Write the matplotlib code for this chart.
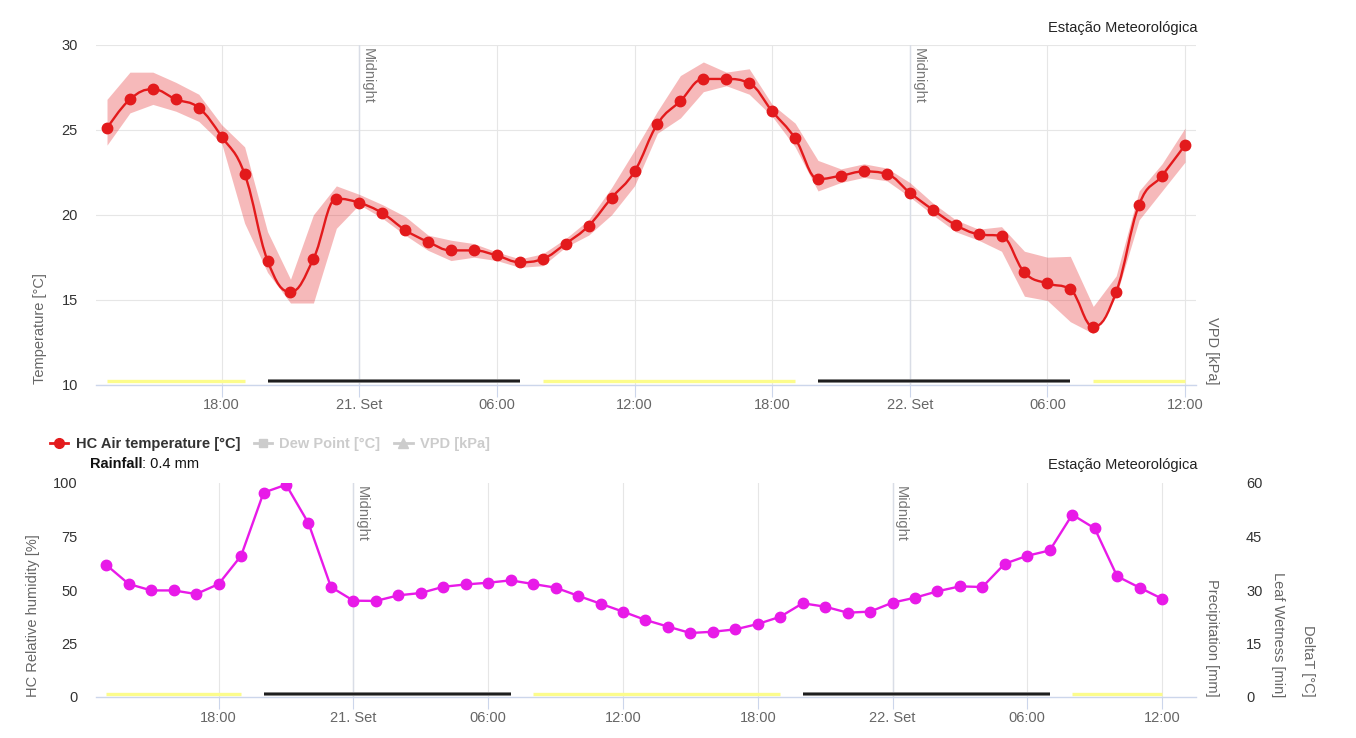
import numpy as np
import pandas as pd
import matplotlib
matplotlib.use("Agg")
import matplotlib.pyplot as plt
import matplotlib.dates as mdates
from matplotlib.path import Path
from matplotlib.patches import PathPatch
from matplotlib.lines import Line2D
from matplotlib.ticker import FuncFormatter

plt.rcParams["font.family"] = ["Liberation Sans", "DejaVu Sans"]

# datos horarios 20/09 13:00 -> 22/09 12:00
horas = pd.date_range("2023-09-20 13:00", "2023-09-22 12:00", freq="h")

temperatura = [25.1, 26.8, 27.4, 26.8, 26.3, 24.6, 22.4, 17.3, 15.45, 17.4,
               20.95, 20.7, 20.1, 19.1, 18.4, 17.9, 17.9, 17.6, 17.2, 17.4,
               18.3, 19.35, 21.0, 22.55, 25.35, 26.7, 28.0, 28.0, 27.75, 26.1,
               24.5, 22.1, 22.3, 22.55, 22.4, 21.3, 20.3, 19.4, 18.85, 18.75,
               16.6, 15.95, 15.6, 13.4, 15.45, 20.6, 22.3, 24.1]
temp_max = [26.8, 28.4, 28.4, 27.8, 27.1, 25.3, 24.0, 19.0, 16.2, 20.0,
            21.7, 21.2, 20.6, 19.9, 18.8, 18.5, 18.3, 17.8, 17.4, 17.7,
            18.6, 19.7, 21.6, 23.8, 26.1, 28.2, 29.0, 28.4, 28.6, 26.5,
            25.4, 23.2, 22.7, 23.0, 22.75, 21.9, 20.7, 19.7, 19.15, 19.3,
            17.85, 17.5, 17.55, 14.6, 16.4, 21.4, 23.0, 25.1]
temp_min = [24.1, 26.0, 26.5, 26.1, 25.5, 24.2, 19.5, 16.6, 14.8, 14.8,
            19.2, 20.6, 19.8, 18.8, 17.9, 17.3, 17.5, 17.3, 16.9, 17.0,
            18.1, 18.8, 20.0, 21.7, 24.8, 25.7, 27.25, 27.6, 27.1, 25.8,
            24.0, 21.4, 21.9, 22.2, 22.0, 21.05, 20.0, 19.0, 18.5, 17.85,
            15.2, 14.95, 13.7, 13.0, 15.2, 19.7, 21.4, 23.1]
humedad = [61.7, 52.8, 49.8, 49.8, 48.1, 52.8, 66.0, 95.5, 99.2, 81.2,
           51.4, 45.0, 44.9, 47.5, 48.6, 51.5, 52.6, 53.4, 54.5, 52.8,
           51.1, 47.3, 43.6, 39.9, 36.0, 32.9, 29.9, 30.5, 31.6, 34.1,
           37.5, 43.8, 42.2, 39.4, 39.9, 44.1, 46.4, 49.4, 51.7, 51.4,
           62.3, 66.0, 68.5, 85.2, 78.8, 56.4, 51.1, 45.9]

dias = [("2023-09-20 13:00", "2023-09-20 19:00"),
        ("2023-09-21 08:00", "2023-09-21 19:00"),
        ("2023-09-22 08:00", "2023-09-22 12:00")]
noches = [("2023-09-20 20:00", "2023-09-21 07:00"),
          ("2023-09-21 20:00", "2023-09-22 07:00")]
medianoches = ["2023-09-21", "2023-09-22"]
lluvia = "0.4 mm"

ROJO = "#e31a1c"
MAGENTA = "#e81ae8"
GRIS_GRID = "#e6e6e6"
EJE = "#ccd6eb"
FS = 10.5


def spline_path(xs, ys, smoothing=1.5):
    # curva tipo highcharts "spline"
    n = len(xs)
    lc = [None] * n
    rc = [None] * n
    den = smoothing + 1
    for i in range(1, n - 1):
        px, py = xs[i], ys[i]
        lx, ly = xs[i - 1], ys[i - 1]
        nx, ny = xs[i + 1], ys[i + 1]
        lcx = (smoothing * px + lx) / den
        lcy = (smoothing * py + ly) / den
        rcx = (smoothing * px + nx) / den
        rcy = (smoothing * py + ny) / den
        corr = (rcy - lcy) * (rcx - px) / (rcx - lcx) + py - rcy
        lcy += corr
        rcy += corr
        if lcy > ly and lcy > py:
            lcy = max(ly, py); rcy = 2 * py - lcy
        elif lcy < ly and lcy < py:
            lcy = min(ly, py); rcy = 2 * py - lcy
        if rcy > ny and rcy > py:
            rcy = max(ny, py); lcy = 2 * py - rcy
        elif rcy < ny and rcy < py:
            rcy = min(ny, py); lcy = 2 * py - rcy
        lc[i] = (lcx, lcy)
        rc[i] = (rcx, rcy)
    verts = [(xs[0], ys[0])]
    codes = [Path.MOVETO]
    for i in range(1, n):
        c1 = rc[i - 1] if rc[i - 1] else (xs[i - 1], ys[i - 1])
        c2 = lc[i] if lc[i] else (xs[i], ys[i])
        verts += [c1, c2, (xs[i], ys[i])]
        codes += [Path.CURVE4] * 3
    return Path(verts, codes)


def rotulo(v, pos):
    d = mdates.num2date(v)
    if d.hour == 0:
        return f"{d.day}. Set"
    return d.strftime("%H:%M")


def estilo(ax, y_barras):
    for s in ["top", "left", "right"]:
        ax.spines[s].set_visible(False)
    ax.spines["bottom"].set_color(EJE)
    ax.spines["bottom"].set_linewidth(1)
    ax.xaxis.set_major_locator(mdates.HourLocator(byhour=[0, 6, 12, 18]))
    ax.xaxis.set_major_formatter(FuncFormatter(rotulo))
    ax.tick_params(axis="x", length=8.5, width=0.8, color=EJE, pad=1.5,
                   labelsize=FS, labelcolor="#666666")
    ax.tick_params(axis="y", length=0, pad=13, labelsize=FS, labelcolor="#333333")
    ax.grid(axis="x", color=GRIS_GRID, lw=0.8)
    ax.set_axisbelow(True)
    for m in medianoches:
        xm = mdates.date2num(pd.Timestamp(m))
        ax.axvline(xm, color="#d9dde6", lw=1, zorder=1)
        ax.annotate("Midnight", xy=(xm, 1), xycoords=("data", "axes fraction"),
                    xytext=(1.2, -2), textcoords="offset points", rotation=270,
                    ha="left", va="top", fontsize=FS, color="#777777")
    for a, b in dias:
        ax.hlines(y_barras, mdates.date2num(pd.Timestamp(a)), mdates.date2num(pd.Timestamp(b)),
                  color="#fcfc8c", lw=2.4, zorder=2)
    for a, b in noches:
        ax.hlines(y_barras, mdates.date2num(pd.Timestamp(a)), mdates.date2num(pd.Timestamp(b)),
                  color="#8a8a8a", lw=2.8, zorder=2)
        ax.hlines(y_barras, mdates.date2num(pd.Timestamp(a)), mdates.date2num(pd.Timestamp(b)),
                  color="#1e1e1e", lw=1.6, zorder=3)


W, H = 1356, 738
fig = plt.figure(figsize=(W / 100, H / 100), dpi=100)

x = mdates.date2num(horas)
hora = 1 / 24

# --- panel superior: temperatura ---
ax1 = fig.add_axes([96 / W, 1 - 384.5 / H, 1100 / W, (384.5 - 45) / H])
estilo(ax1, 10.21)
ax1.grid(axis="y", color=GRIS_GRID, lw=0.8)
ax1.fill_between(x, temp_min, temp_max, color=ROJO, alpha=0.3, lw=0, zorder=3)
ax1.add_patch(PathPatch(spline_path(list(x), temperatura), fill=False,
                        ec=ROJO, lw=1.7, zorder=4))
ax1.plot(x, temperatura, "o", color=ROJO, ms=7.5, zorder=5)
ax1.set_ylim(10, 30)
ax1.set_yticks([10, 15, 20, 25, 30])
ax1.set_xlim(x[0] - 0.48 * hora, x[-1] + 0.48 * hora)

# --- panel inferior: humedad ---
ax2 = fig.add_axes([96 / W, 1 - 697 / H, 1100 / W, (697 - 483) / H])
estilo(ax2, 1.3)
ax2.plot(x, humedad, "-o", color=MAGENTA, ms=7.5, lw=1.7, zorder=5)
ax2.set_ylim(0, 100)
ax2.set_yticks([0, 25, 50, 75, 100])
ax2.set_xlim(x[0] - 0.46 * hora, x[-1] + 1.51 * hora)

ax3 = ax2.twinx()
ax3.set_ylim(0, 60)
ax3.set_yticks([0, 15, 30, 45, 60])
for s in ax3.spines.values():
    s.set_visible(False)
ax3.tick_params(axis="y", length=0, pad=36, labelsize=FS, labelcolor="#333333")

# titulos de ejes
tit = dict(fontsize=FS, color="#666666")
fig.text(40 / W, 1 - 384.5 / H, "Temperature [°C]", rotation=90, ha="center", va="bottom", **tit)
fig.text(1212 / W, 1 - 384.5 / H, "VPD [kPa]", rotation=270, ha="center", va="bottom", **tit)
fig.text(33 / W, 1 - 697 / H, "HC Relative humidity [%]", rotation=90, ha="center", va="bottom", **tit)
fig.text(1212 / W, 1 - 697 / H, "Precipitation [mm]", rotation=270, ha="center", va="bottom", **tit)
fig.text(1278 / W, 1 - 697 / H, "Leaf Wetness [min]", rotation=270, ha="center", va="bottom", **tit)
fig.text(1308 / W, 1 - 697 / H, "DeltaT [°C]", rotation=270, ha="center", va="bottom", **tit)

fig.text(1197 / W, 1 - 28 / H, "Estação Meteorológica", ha="right", va="center",
         fontsize=FS, color="#222222")
fig.text(1197 / W, 1 - 465 / H, "Estação Meteorológica", ha="right", va="center",
         fontsize=FS, color="#222222")

# leyenda
h1 = Line2D([], [], color=ROJO, marker="o", ms=7, lw=2)
h2 = Line2D([], [], color="#cccccc", marker="s", ms=6, lw=2)
h3 = Line2D([], [], color="#cccccc", marker="^", ms=7, lw=2)
leg = fig.legend([h1, h2, h3], ["HC Air temperature [°C]", "Dew Point [°C]", "VPD [kPa]"],
                 loc="center left", bbox_to_anchor=(50 / W, 1 - 444 / H), ncol=3,
                 frameon=False, handlelength=1.25, handletextpad=0.5, columnspacing=0.95,
                 borderaxespad=0, borderpad=0, prop=dict(weight="bold", size=FS))
for t, c in zip(leg.get_texts(), ["#333333", "#cccccc", "#cccccc"]):
    t.set_color(c)

t_lluvia = fig.text(90 / W, 1 - 464 / H, "Rainfall", weight="bold", fontsize=FS,
                    va="center", color="#111111")
ax2.annotate(": " + lluvia, xy=(1, 0.5), xycoords=t_lluvia, ha="left", va="center",
             fontsize=FS, color="#111111")

plt.savefig("out.png", dpi=100)
